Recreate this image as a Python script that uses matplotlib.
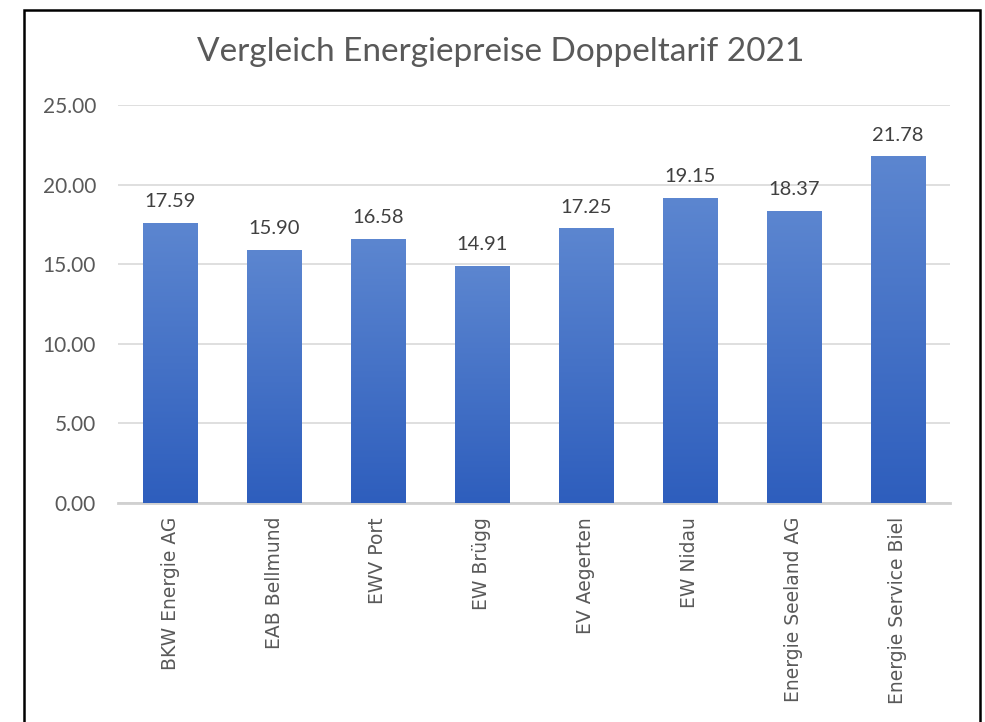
import matplotlib.pyplot as plt
import matplotlib.patches as patches
import numpy as np

# Data
companies = ['BKW Energie AG', 'EAB Bellmund', 'EWV Port', 'EW Brügg', 'EV Aegerten',
             'EW Nidau', 'Energie Seeland AG', 'Energie Service Biel']
prices = [17.59, 15.90, 16.58, 14.91, 17.25, 19.15, 18.37, 21.78]
yticks = [0, 5, 10, 15, 20, 25]

plt.rcParams['font.family'] = ['Lato', 'DejaVu Sans']

fig = plt.figure(figsize=(9.85, 7.22), dpi=100)
ax = fig.add_axes([0.12, 0.3033, 0.844, 0.5513])

# Gradient bars (light on top, darker at bottom)
grad = np.linspace(0, 1, 256).reshape(-1, 1)
cmap = plt.matplotlib.colors.LinearSegmentedColormap.from_list('g', ['#2E5EBD', '#5C86D0'])
x = np.arange(len(companies))
bars = ax.bar(x, prices, width=0.52, color='none', zorder=3)
for b in bars:
    x0, y0 = b.get_x(), b.get_y()
    w, h = b.get_width(), b.get_height()
    im = ax.imshow(grad, extent=[x0, x0 + w, y0, y0 + h], origin='lower',
                   aspect='auto', cmap=cmap, zorder=3)
    im.set_clip_path(b)
    ax.text(x0 + w / 2, h + 0.8, f'{h:.2f}', ha='center', va='bottom',
            fontsize=14.5, color='#404040')

ax.set_xlim(-0.5, len(companies) - 0.5)
ax.set_ylim(0, 25)
ax.set_yticks(yticks)
ax.set_yticklabels([f'{v:.2f}' for v in yticks], fontsize=15, color='#595959')
ax.set_xticks(x)
ax.set_xticklabels(companies, rotation=90, fontsize=13.5, color='#595959',
                   family='DejaVu Sans')
ax.tick_params(axis='x', length=0, pad=10)
ax.tick_params(axis='y', length=0, pad=16)
ax.yaxis.grid(True, color='#D9D9D9', linewidth=1.2, zorder=0)
ax.set_axisbelow(True)
for s in ['top', 'right', 'left']:
    ax.spines[s].set_visible(False)
ax.spines['bottom'].set_color('#D0D0D0')
ax.spines['bottom'].set_linewidth(2)

fig.text(0.508, 0.928, 'Vergleich Energiepreise Doppeltarif 2021', ha='center',
         va='center', fontsize=24, color='#595959')

# Chart frame
frame = patches.Rectangle((24 / 985, -0.05), (980 - 24) / 985, 1.05 - 10 / 722,
                          transform=fig.transFigure, fill=False,
                          edgecolor='black', linewidth=1.8)
fig.patches.append(frame)

fig.savefig('out.png', dpi=100)
